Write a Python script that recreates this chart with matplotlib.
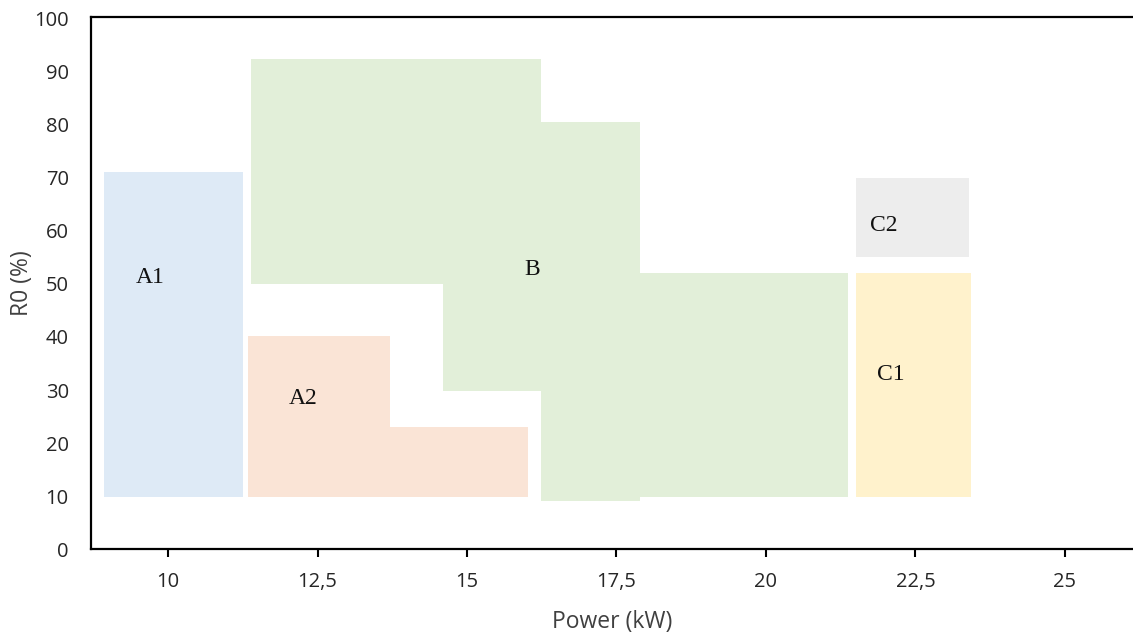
import matplotlib
matplotlib.use("Agg")
import matplotlib.pyplot as plt

# Region data: step edges along Power (kW), bottom/top R0 (%) per step
A1_x = [8.93, 11.25]
A1_bottom = [9.8]
A1_top = [71.0]

A2_x = [11.34, 13.71, 16.02]
A2_bottom = [9.8, 9.8]
A2_top = [40.1, 23.0]

B_x = [11.39, 14.6, 16.24, 17.89, 21.37]
B_bottom = [50.0, 29.9, 9.2, 9.8]
B_top = [92.3, 92.3, 80.4, 52.0]

C2_x = [21.5, 23.39]
C2_bottom = [55.0]
C2_top = [70.0]

C1_x = [21.5, 23.43]
C1_bottom = [9.8]
C1_top = [52.0]

labels = ["A1", "A2", "B", "C2", "C1"]
label_x = [9.7, 12.26, 16.09, 21.97, 22.09]
label_y = [51.2, 28.4, 52.7, 61.0, 33.0]

x_ticks = [10, 12.5, 15, 17.5, 20, 22.5, 25]
x_ticklabels = ["10", "12,5", "15", "17,5", "20", "22,5", "25"]
y_ticks = list(range(0, 101, 10))

colors = {"A1": "#DEEAF6", "A2": "#FAE4D6", "B": "#E2EFD9", "C2": "#EDEDED", "C1": "#FFF2CC"}

fig = plt.figure(figsize=(11.33, 6.37), dpi=100)
ax = fig.add_axes([0.0803, 0.1374, 0.9197, 0.8366])

def region(x, bottom, top, color):
    ax.fill_between(x, bottom + [bottom[-1]], top + [top[-1]], step="post",
                    facecolor=color, edgecolor="none", linewidth=0)

region(A1_x, A1_bottom, A1_top, colors["A1"])
region(A2_x, A2_bottom, A2_top, colors["A2"])
region(B_x, B_bottom, B_top, colors["B"])
region(C2_x, C2_bottom, C2_top, colors["C2"])
region(C1_x, C1_bottom, C1_top, colors["C1"])

for t, lx, ly in zip(labels, label_x, label_y):
    ax.text(lx, ly, t, fontsize=17, family="Liberation Serif", color="#111111",
            ha="center", va="center")

ax.set_xlim(8.71, 26.14)
ax.set_ylim(0, 100.3)
ax.set_xticks(x_ticks)
ax.set_xticklabels(x_ticklabels)
ax.set_yticks(y_ticks)

for s in ["left", "bottom", "top"]:
    ax.spines[s].set_linewidth(1.6)
    ax.spines[s].set_color("black")
ax.spines["right"].set_visible(False)

ax.tick_params(axis="x", direction="out", length=6, width=1.5, pad=10,
               labelsize=14.5, labelcolor="#262626")
ax.tick_params(axis="y", length=0, pad=16, labelsize=14.5, labelcolor="#262626")
for lab in ax.get_xticklabels() + ax.get_yticklabels():
    lab.set_family("Open Sans")

ax.set_xlabel("Power (kW)", fontsize=16.5, family="Open Sans", color="#404040", labelpad=13)
ax.set_ylabel("R0 (%)", fontsize=16.5, family="Open Sans", color="#404040", labelpad=0)

fig.savefig("out.png", dpi=100)
